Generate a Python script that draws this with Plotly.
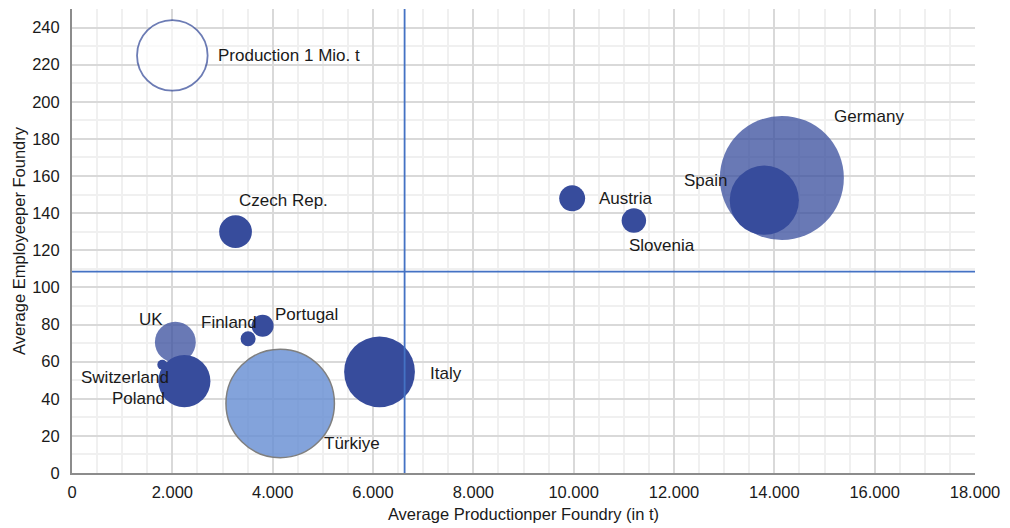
import plotly.graph_objects as go

# data
countries = ["Germany", "Spain", "Italy", "Türkiye", "Poland", "UK", "Switzerland",
             "Czech Rep.", "Austria", "Slovenia", "Portugal", "Finland"]
production_per_foundry = [14150, 13800, 6130, 4150, 2240, 2060, 1800,
                          3260, 9970, 11200, 3800, 3510]
employees_per_foundry = [159, 147, 54.5, 37.5, 49.5, 70.5, 58.3,
                         130, 148, 136, 79.3, 72.3]
total_production_kt = [3085, 960, 1005, 2360, 545, 335, 20,
                       215, 135, 120, 97, 45]

ref_label = "Production 1 Mio. t"
ref_x, ref_y, ref_kt = 2000, 225, 1000

avg_production = 6630
avg_employees = 108.5

# styles
navy = "#374C9C"
fill = {"Germany": "rgba(55,76,156,0.75)", "UK": "rgba(55,76,156,0.75)",
        "Türkiye": "rgba(100,140,210,0.8)"}
edge = {"Türkiye": ("#7F7F7F", 1.5)}
# label offsets in px (dx, dy, anchor)
label_pos = {
    "Germany": (87, 61, "center"), "Spain": (-35, 20, "right"),
    "Italy": (48, -2, "left"), "Türkiye": (42, -40, "left"),
    "Poland": (-17, -17, "right"), "UK": (-10, 23, "right"),
    "Switzerland": (9, -13, "right"), "Czech Rep.": (1, 31, "left"),
    "Austria": (25, 0, "left"), "Slovenia": (-7, -25, "left"),
    "Portugal": (10, 11, "left"), "Finland": (11, 16, "right"),
}

ref_diam = 70.6
sizeref = 2 * ref_kt / ref_diam ** 2
label_font = dict(size=17, color="#1A1A1A")

fig = go.Figure()
# draw order: big ones behind
order = ["Germany", "Spain", "Türkiye", "Italy", "UK", "Switzerland", "Poland",
         "Czech Rep.", "Austria", "Slovenia", "Finland", "Portugal"]
for c in order:
    i = countries.index(c)
    lc, lw = edge.get(c, (navy, 0))
    fig.add_trace(go.Scatter(
        x=[production_per_foundry[i]], y=[employees_per_foundry[i]],
        mode="markers", name=c,
        marker=dict(size=[total_production_kt[i]], sizemode="area", sizeref=sizeref,
                    color=fill.get(c, navy), opacity=1,
                    line=dict(color=lc, width=lw)),
        showlegend=False, hoverinfo="text", hovertext=c,
    ))

fig.add_trace(go.Scatter(
    x=[ref_x], y=[ref_y], mode="markers",
    marker=dict(size=[ref_kt], sizemode="area", sizeref=sizeref,
                color="white", line=dict(color="#2F4596", width=1.8)),
    showlegend=False, hoverinfo="skip",
))

annotations = []
for c in countries:
    i = countries.index(c)
    dx, dy, anc = label_pos[c]
    annotations.append(dict(
        x=production_per_foundry[i], y=employees_per_foundry[i], text=c,
        xshift=dx, yshift=dy, xanchor=anc, yanchor="middle", showarrow=False,
        font=label_font,
    ))
annotations.append(dict(x=ref_x, y=ref_y, text=ref_label, xshift=44, xanchor="left",
                        yanchor="middle", showarrow=False, font=label_font))

fig.add_vline(x=avg_production, line=dict(color="#4472C4", width=1.8))
fig.add_hline(y=avg_employees, line=dict(color="#4472C4", width=1.8))

# page body has an 8px margin, so the figure is sized to fit inside it
fig.update_layout(
    width=1002, height=520,
    margin=dict(l=64, r=35, t=1, b=55),
    plot_bgcolor="white", paper_bgcolor="white",
    font=dict(family="Liberation Sans, Arial, sans-serif", size=16, color="#1A1A1A"),
    separators=",.",
    annotations=annotations,
)
fig.update_xaxes(
    range=[0, 18000], dtick=2000, tickformat=",d",
    showgrid=True, gridcolor="#D9D9D9", gridwidth=1.5,
    minor=dict(dtick=500, showgrid=True, gridcolor="#F0F0F0", gridwidth=1.5),
    showline=True, linecolor="#8C8C8C", linewidth=2, zeroline=False,
    ticks="", tickfont=dict(size=16.5), ticklabelstandoff=3,
    title=dict(text="Average Productionper Foundry (in t)", font=dict(size=16.5), standoff=9),
)
fig.update_yaxes(
    range=[0, 250], dtick=20,
    showgrid=True, gridcolor="#D9D9D9", gridwidth=1.5,
    minor=dict(dtick=10, showgrid=True, gridcolor="#F0F0F0", gridwidth=1.5),
    showline=True, linecolor="#8C8C8C", linewidth=2, zeroline=False,
    ticks="", tickfont=dict(size=16.5), ticklabelstandoff=7,
    title=dict(text="Average Employeeper Foundry", font=dict(size=16.5), standoff=2),
)

fig.write_html("out.html")
